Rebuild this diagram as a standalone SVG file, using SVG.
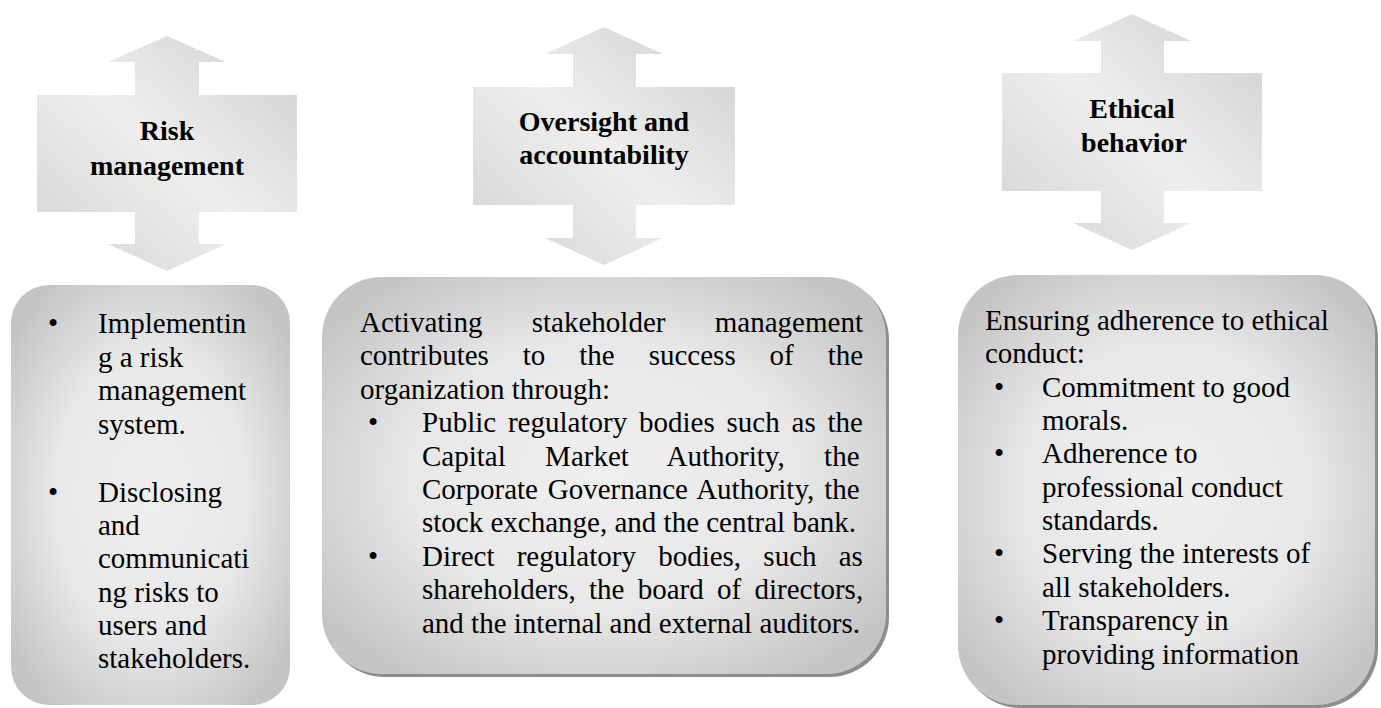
<svg xmlns="http://www.w3.org/2000/svg" width="1381" height="708" viewBox="0 0 1381 708">
  <defs>
    <linearGradient id="arrowFill" x1="1" y1="0" x2="0" y2="1">
      <stop offset="0" stop-color="#cfcfcf"/>
      <stop offset="0.5" stop-color="#eeeeee"/>
      <stop offset="1" stop-color="#d3d3d3"/>
    </linearGradient>
    <radialGradient id="boxFill" cx="0.5" cy="0.5" r="0.62">
      <stop offset="0" stop-color="#efefef"/>
      <stop offset="0.55" stop-color="#e8e8e8"/>
      <stop offset="1" stop-color="#c4c4c4"/>
    </radialGradient>
    <filter id="edgeShadow" x="-5%" y="-5%" width="110%" height="110%">
      <feOffset in="SourceAlpha" dx="3" dy="3" result="off"/>
      <feFlood flood-color="#8c8c8c"/>
      <feComposite in2="off" operator="in" result="sh"/>
      <feMerge>
        <feMergeNode in="sh"/>
        <feMergeNode in="SourceGraphic"/>
      </feMerge>
    </filter>
  </defs>
  <style>
    .arrow { fill: url(#arrowFill); }
    .box { fill: url(#boxFill); }
    .head { font-family: "Liberation Serif", "Times New Roman", serif; font-weight: bold; font-size: 28px; fill: #000; text-anchor: middle; }
    .body { font-family: "Liberation Serif", "Times New Roman", serif; font-size: 29px; fill: #000; }
  </style>

  <rect width="1381" height="708" fill="#ffffff"/>

  <!-- double-headed arrows carrying the headings -->
  <g id="connectors">
    <path class="arrow" d="M167,36 L226,62 L199,62 L199,95 L297,95 L297,212 L199,212 L199,244 L226,244 L167,271 L108,244 L135,244 L135,212 L37,212 L37,95 L135,95 L135,62 L108,62 Z"/>
    <path class="arrow" d="M604,27 L663,54 L636,54 L636,87 L735,87 L735,205 L636,205 L636,238 L663,238 L604,265 L545,238 L573,238 L573,205 L473,205 L473,87 L573,87 L573,54 L545,54 Z"/>
    <path class="arrow" d="M1132,14 L1191,41 L1164,41 L1164,73 L1262,73 L1262,191 L1164,191 L1164,223 L1191,223 L1132,250 L1073,223 L1101,223 L1101,191 L1002,191 L1002,73 L1101,73 L1101,41 L1073,41 Z"/>
  </g>

  <g id="risk-heading">
    <text class="head" x="167" y="140">Risk</text>
    <text class="head" x="167" y="175">management</text>
  </g>
  <g id="oversight-heading">
    <text class="head" x="604" y="131">Oversight and</text>
    <text class="head" x="604" y="164">accountability</text>
  </g>
  <g id="ethics-heading">
    <text class="head" x="1132" y="118">Ethical</text>
    <text class="head" x="1134" y="152">behavior</text>
  </g>

  <!-- risk management box -->
  <g id="risk-box">
    <rect class="box" x="11" y="285" width="279" height="420" rx="38" ry="38"/>
    <g class="body">
      <text x="48" y="333">•</text>
      <text x="98" y="333">Implementin</text>
      <text x="98" y="367">g a risk</text>
      <text x="98" y="400">management</text>
      <text x="98" y="434">system.</text>
      <text x="48" y="502">•</text>
      <text x="98" y="502">Disclosing</text>
      <text x="98" y="535">and</text>
      <text x="98" y="568">communicati</text>
      <text x="98" y="602">ng risks to</text>
      <text x="98" y="635">users and</text>
      <text x="98" y="668">stakeholders.</text>
    </g>
  </g>

  <!-- oversight box: justified paragraph, word-spacing stretches each full line -->
  <g id="oversight-box">
    <rect class="box" x="322" y="277" width="564" height="397" rx="60" ry="60" filter="url(#edgeShadow)"/>
    <g class="body">
      <text x="360" y="332" word-spacing="42.1">Activating stakeholder management</text>
      <text x="360" y="365" word-spacing="26.7">contributes to the success of the</text>
      <text x="360" y="399">organization through:</text>
      <text x="368" y="432">•</text>
      <text x="422" y="432" word-spacing="4.6">Public regulatory bodies such as the</text>
      <text x="422" y="466" word-spacing="32.1">Capital Market Authority, the</text>
      <text x="422" y="499" word-spacing="2.6">Corporate Governance Authority, the</text>
      <text x="422" y="532">stock exchange, and the central bank.</text>
      <text x="368" y="566">•</text>
      <text x="422" y="566" word-spacing="15">Direct regulatory bodies, such as</text>
      <text x="422" y="599" word-spacing="6">shareholders, the board of directors,</text>
      <text x="422" y="633">and the internal and external auditors.</text>
    </g>
  </g>

  <!-- ethical behavior box -->
  <g id="ethics-box">
    <rect class="box" x="958" y="275" width="417" height="430" rx="60" ry="60" filter="url(#edgeShadow)"/>
    <g class="body">
      <text x="985" y="330">Ensuring adherence to ethical</text>
      <text x="985" y="363">conduct:</text>
      <text x="994" y="397">•</text>
      <text x="1042" y="397">Commitment to good</text>
      <text x="1042" y="430">morals.</text>
      <text x="994" y="463">•</text>
      <text x="1042" y="463">Adherence to</text>
      <text x="1042" y="497">professional conduct</text>
      <text x="1042" y="530">standards.</text>
      <text x="994" y="563">•</text>
      <text x="1042" y="563">Serving the interests of</text>
      <text x="1042" y="597">all stakeholders.</text>
      <text x="994" y="630">•</text>
      <text x="1042" y="630">Transparency in</text>
      <text x="1042" y="664">providing information</text>
    </g>
  </g>
</svg>
